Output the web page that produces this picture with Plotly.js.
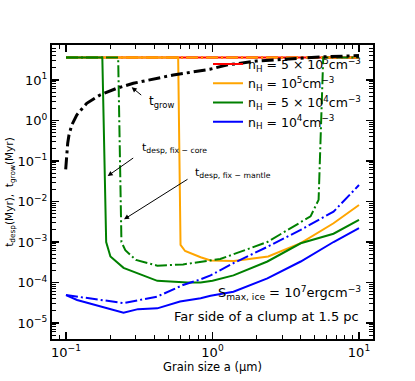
<!DOCTYPE html>
<html>
<head>
<meta charset="utf-8">
<script src="https://cdn.plot.ly/plotly-3.0.1.min.js"></script>
<style>
  body { margin: 0; background: #fff; }
  #chart { width: 415px; height: 381px; }
</style>
</head>
<body>
<div id="chart"></div>
<script>
// plateau = upper cap of the desorption time (Myr)
const plateau = 36;

// n_H = 5e5 : never desorbed, sits on the plateau
const aRed = [0.1, 10];
const tRedCore = [plateau, plateau];
const tRedMantle = [plateau, plateau];

// n_H = 1e5
const aOrangeCore = [0.1, 0.583, 0.605, 0.65, 0.83, 0.97, 1.4, 2.4, 4.0, 6.7, 10];
const tOrangeCore = [plateau, plateau, 8.5e-4, 6e-4, 4.2e-4, 3.5e-4, 3.4e-4, 4.4e-4, 9.4e-4, 2.9e-3, 8.2e-3];
const aOrangeMantle = [0.1, 10];
const tOrangeMantle = [plateau, plateau];

// n_H = 5e4
const aGreenCore = [0.1, 0.177, 0.188, 0.201, 0.247, 0.42, 0.675, 0.83, 1.0, 1.39, 2.37, 4.0, 6.7, 10];
const tGreenCore = [plateau, plateau, 1e-3, 4.4e-4, 2.3e-4, 1.1e-4, 1.0e-4, 1.0e-4, 1.1e-4, 1.5e-4, 3.3e-4, 9.3e-4, 1.6e-3, 3.5e-3];
const aGreenMantle = [0.1, 0.227, 0.239, 0.254, 0.30, 0.42, 0.63, 0.83, 0.97, 1.13, 2.37, 4.67, 5.3, 5.7, 10];
const tGreenMantle = [plateau, plateau, 1e-3, 6.3e-4, 3.6e-4, 2.6e-4, 2.8e-4, 3.2e-4, 3.5e-4, 3.8e-4, 1e-3, 4.3e-3, 1.1e-2, plateau, plateau];

// n_H = 1e4
const aBlueCore = [0.1, 0.119, 0.247, 0.31, 0.42, 0.6, 0.83, 0.97, 1.39, 2.37, 4.0, 6.7, 10];
const tBlueCore = [4.9e-5, 3.7e-5, 1.8e-5, 2.2e-5, 2.3e-5, 3.4e-5, 4.1e-5, 4.7e-5, 5.9e-5, 1.26e-4, 3.3e-4, 1.0e-3, 2.2e-3];
const aBlueMantle = [0.1, 0.247, 0.42, 0.63, 0.83, 0.97, 1.39, 2.37, 4.0, 6.7, 10];
const tBlueMantle = [4.9e-5, 3.1e-5, 4.5e-5, 8.7e-5, 1.2e-4, 1.5e-4, 3.0e-4, 7.6e-4, 2.0e-3, 5.6e-3, 2.55e-2];

// grain growth time
const aGrow = [0.0995, 0.1005, 0.1027, 0.1048, 0.1094, 0.1184, 0.1385, 0.1706, 0.222, 0.288, 0.54, 0.96, 1.25, 2.0, 3.2, 5.4, 10];
const tGrow = [0.062, 0.128, 0.274, 0.44, 0.77, 1.37, 2.66, 4.26, 6.24, 8.3, 13.3, 18.4, 23.4, 29.4, 33, 37, 40];

const legendNames = [
  'n<sub>H</sub> = 5 × 10<sup>5</sup>cm<sup>−3</sup>',
  'n<sub>H</sub> = 10<sup>5</sup>cm<sup>−3</sup>',
  'n<sub>H</sub> = 5 × 10<sup>4</sup>cm<sup>−3</sup>',
  'n<sub>H</sub> = 10<sup>4</sup>cm<sup>−3</sup>'
];

const dashdot = '12px,3px,2px,3px';

function linha(x, y, color, name, dash) {
  return {
    x: x, y: y, type: 'scatter', mode: 'lines',
    name: name || '', showlegend: !dash,
    line: { color: color, width: 2, dash: dash || 'solid' }
  };
}

const traces = [
  linha(aRed, tRedCore, '#ff0000', legendNames[0]),
  linha(aRed, tRedMantle, '#ff0000', null, dashdot),
  linha(aOrangeCore, tOrangeCore, '#ffa500', legendNames[1]),
  linha(aOrangeMantle, tOrangeMantle, '#ffa500', null, dashdot),
  linha(aGreenCore, tGreenCore, '#008000', legendNames[2]),
  linha(aGreenMantle, tGreenMantle, '#008000', null, dashdot),
  linha(aBlueCore, tBlueCore, '#0000ff', legendNames[3]),
  linha(aBlueMantle, tBlueMantle, '#0000ff', null, dashdot),
  {
    x: aGrow, y: tGrow, type: 'scatter', mode: 'lines', showlegend: false,
    line: { color: '#000', width: 3, dash: '12px,4px,3px,4px' }
  }
];

function minors(d0, d1) {
  const v = [];
  for (let d = d0; d <= d1; d++) {
    for (let k = 2; k <= 9; k++) v.push(k * Math.pow(10, d));
  }
  return v;
}

const xTicks = [0.1, 1, 10];
const xTickText = ['10<sup>−1</sup>', '10<sup>0</sup>', '10<sup>1</sup>'];
const yTicks = [1e-5, 1e-4, 1e-3, 1e-2, 1e-1, 1, 10];
const yTickText = ['10<sup>−5</sup>', '10<sup>−4</sup>', '10<sup>−3</sup>', '10<sup>−2</sup>', '10<sup>−1</sup>', '10<sup>0</sup>', '10<sup>1</sup>'];

const eixo = {
  type: 'log', showgrid: false, zeroline: false,
  showline: true, linecolor: '#000', linewidth: 2, mirror: 'ticks',
  ticks: 'inside', ticklen: 7, tickwidth: 1.5, tickcolor: '#000',
  tickmode: 'array',
  tickfont: { size: 13, color: '#000' }
};

const anot = { showarrow: false, font: { size: 12, color: '#000' } };
function seta(lx, ly, ax, ay) {
  return {
    x: lx, y: ly, xref: 'x', yref: 'y', text: '', showarrow: true,
    ax: ax, ay: ay, arrowhead: 2, arrowsize: 1, arrowwidth: 1, arrowcolor: '#000', standoff: 0
  };
}

const layout = {
  width: 415, height: 381,
  margin: { l: 52, r: 42, t: 45, b: 42 },
  paper_bgcolor: '#fff', plot_bgcolor: '#fff',
  font: { family: 'DejaVu Sans, sans-serif', color: '#000' },
  xaxis: Object.assign({}, eixo, {
    range: [-1.0956, 1.0956],
    tickvals: xTicks, ticktext: xTickText,
    minor: { ticks: 'inside', ticklen: 4, tickwidth: 1, tickcolor: '#000', tickmode: 'array', tickvals: minors(-2, 1) },
    title: { text: 'Grain size a (μm)', font: { size: 11.5 }, standoff: 3 }
  }),
  yaxis: Object.assign({}, eixo, {
    range: [-5.395, 1.864],
    tickvals: yTicks, ticktext: yTickText,
    minor: { ticks: 'inside', ticklen: 4, tickwidth: 1, tickcolor: '#000', tickmode: 'array', tickvals: minors(-6, 1) },
    title: { text: 't<sub>desp</sub>(Myr),  t<sub>grow</sub>(Myr)', font: { size: 10.5 }, standoff: 2 }
  }),
  showlegend: true,
  legend: {
    x: 0.486, y: 0.985, xanchor: 'left', yanchor: 'top',
    bgcolor: 'rgba(0,0,0,0)', font: { size: 12.5 }, tracegroupgap: 0
  },
  annotations: [
    seta(-0.5515, 0.82, 11, 9),
    seta(-0.7154, -1.370, 27, -19),
    seta(-0.604, -2.44, 65, -41),
    Object.assign({}, anot, { xref: 'paper', yref: 'paper', x: 0.295, y: 0.806, xanchor: 'left', yanchor: 'middle', text: 't<sub>grow</sub>' }),
    Object.assign({}, anot, { xref: 'paper', yref: 'paper', x: 0.274, y: 0.650, xanchor: 'left', yanchor: 'middle', text: 't<sub>desp, fix − core</sub>', font: { size: 11, color: '#000' } }),
    Object.assign({}, anot, { xref: 'paper', yref: 'paper', x: 0.439, y: 0.565, xanchor: 'left', yanchor: 'middle', text: 't<sub>desp, fix − mantle</sub>', font: { size: 11, color: '#000' } }),
    Object.assign({}, anot, { xref: 'paper', yref: 'paper', x: 0.969, y: 0.156, xanchor: 'right', yanchor: 'middle', text: 'S<sub>max, ice</sub> = 10<sup>7</sup>ergcm<sup>−3</sup>', font: { size: 13, color: '#000' } }),
    Object.assign({}, anot, { xref: 'paper', yref: 'paper', x: 0.963, y: 0.076, xanchor: 'right', yanchor: 'middle', text: 'Far side of a clump at 1.5 pc', font: { size: 13, color: '#000' } })
  ]
};

Plotly.newPlot('chart', traces, layout, { staticPlot: true });
</script>
</body>
</html>
